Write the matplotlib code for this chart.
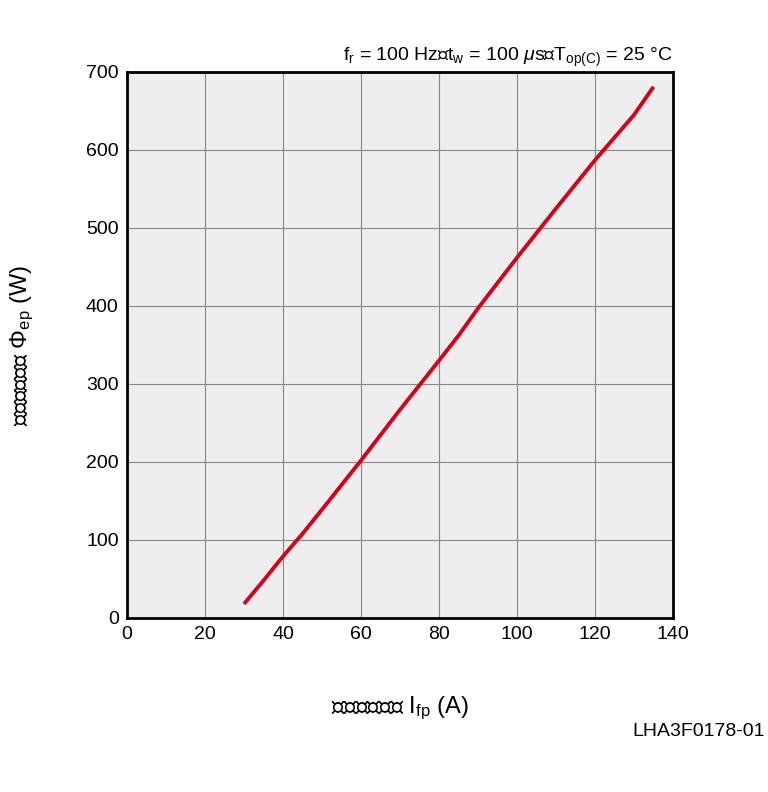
import matplotlib
matplotlib.use('Agg')
import matplotlib.pyplot as plt

plt.rcParams['font.family'] = ['Liberation Sans', 'Noto Sans CJK JP']
plt.rcParams['mathtext.fontset'] = 'custom'
plt.rcParams['mathtext.rm'] = 'Liberation Sans'
plt.rcParams['mathtext.it'] = 'Liberation Sans:italic'

# Data
current = [30, 35, 40, 45, 50, 60, 70, 80, 85, 90, 100, 110, 120, 130, 135]
power = [18, 48, 79, 108, 139, 202, 267, 330, 362, 397, 462, 525, 587, 645, 681]

x_ticks = [0, 20, 40, 60, 80, 100, 120, 140]
y_ticks = [0, 100, 200, 300, 400, 500, 600, 700]

fig = plt.figure(figsize=(7.68, 7.92), dpi=100)
ax = fig.add_axes([127/768, 1-618/792, 546/768, 546/792])
ax.set_facecolor('#eeeeee')
ax.plot(current, power, color='#d7001a', linewidth=2.8, solid_capstyle='butt')
ax.set_xlim(0, 140)
ax.set_ylim(0, 700)
ax.set_xticks(x_ticks)
ax.set_yticks(y_ticks)
ax.grid(True, color='#888888', linewidth=0.8)
ax.set_axisbelow(True)
for s in ax.spines.values():
    s.set_linewidth(2)
ax.tick_params(length=0, labelsize=14, pad=6)

fig.text(127/768 + 273/768, 1-708/792, 'パルス順電流 I$_\\mathrm{fp}$ (A)', ha='center', va='center', fontsize=17)
fig.text(22/768, 1-345/792, 'ピーク光出力 Φ$_\\mathrm{ep}$ (W)', ha='center', va='center', fontsize=17, rotation=90)
fig.text(673/768, 1-57/792, 'f$_\\mathrm{r}$ = 100 Hz、t$_\\mathrm{w}$ = 100 $\\mathit{\\mu}$s、T$_\\mathrm{op(C)}$ = 25 °C',
         ha='right', va='center', fontsize=14)
fig.text(765/768, 1-732/792, 'LHA3F0178-01', ha='right', va='center', fontsize=14)

fig.savefig('out.png', dpi=100, facecolor='white')
